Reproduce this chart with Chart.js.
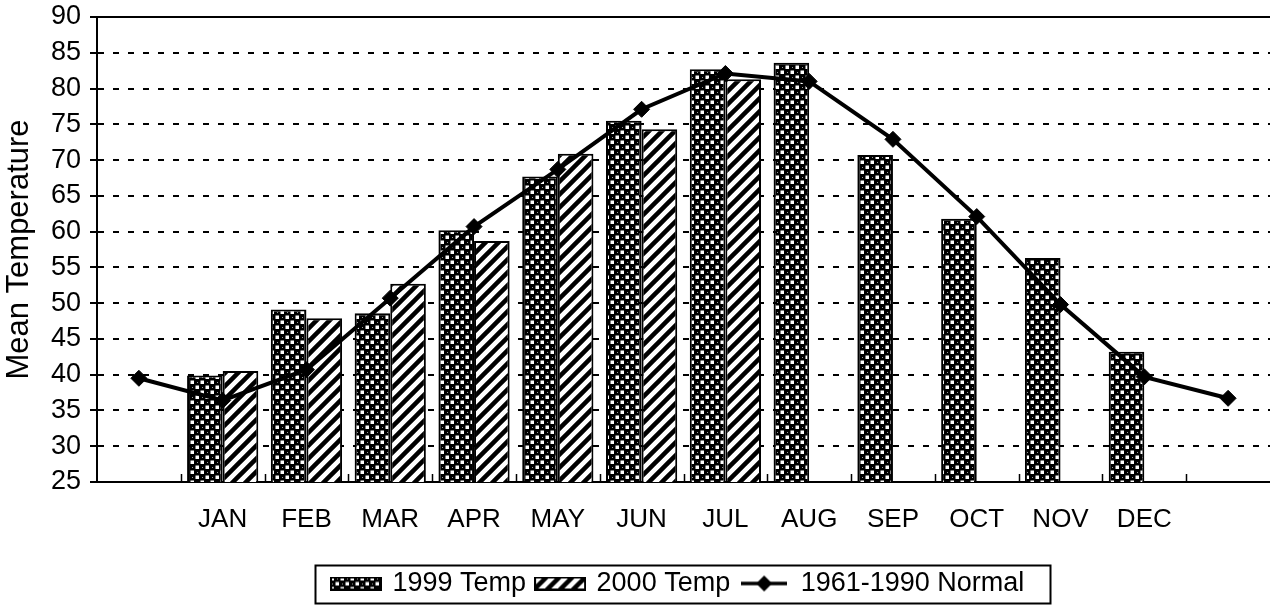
<!DOCTYPE html>
<html><head><meta charset="utf-8">
<script src="https://cdn.jsdelivr.net/npm/chart.js@4.4.1/dist/chart.umd.min.js"></script>
<style>html,body{margin:0;padding:0;background:#fff;overflow:hidden;}canvas{display:block;}</style>
</head><body>
<canvas id="c" width="1270" height="607"></canvas>
<script>
// ---- data ----
const categories = ['', 'JAN', 'FEB', 'MAR', 'APR', 'MAY', 'JUN', 'JUL', 'AUG', 'SEP', 'OCT', 'NOV', 'DEC', ''];
const temp1999 = [null, 39.9, 49.1, 48.6, 60.2, 67.7, 75.5, 82.7, 83.6, 70.7, 61.8, 56.3, 43.2, null];
const temp2000 = [null, 40.5, 47.9, 52.7, 58.7, 70.9, 74.3, 81.3, null, null, null, null, null, null];
const normal6190 = [39.5, 36.4, 40.7, 50.7, 60.7, 68.7, 77.1, 82.1, 81.0, 72.9, 62.1, 49.8, 39.7, 36.7];
const seriesNames = ['1999 Temp', '2000 Temp', '1961-1990 Normal'];
const yTitle = 'Mean Temperature';
const yMin = 25, yMax = 90, yStep = 5;

const FONT = "'Liberation Sans', Arial, sans-serif";
Chart.defaults.font.family = FONT;
Chart.defaults.color = '#000';

// ---- patterns ----
function drawDots(g) {
  const s = 10;
  const c = document.createElement('canvas'); c.width = s; c.height = s;
  const t = c.getContext('2d');
  t.fillStyle = '#000'; t.fillRect(0, 0, s, s);
  t.fillStyle = '#fff';
  t.fillRect(0.5, 0.5, 3.5, 3.5); t.fillRect(5.5, 5.5, 3.5, 3.5);
  t.fillStyle = '#999';
  t.fillRect(7, 2, 1, 1); t.fillRect(2, 7, 1, 1);
  return g.createPattern(c, 'repeat');
}
function drawHatch(g) {
  const s = 13;
  const c = document.createElement('canvas'); c.width = s; c.height = s;
  const t = c.getContext('2d');
  t.fillStyle = '#fff'; t.fillRect(0, 0, s, s);
  t.strokeStyle = '#000'; t.lineWidth = 4.5;
  t.beginPath();
  t.moveTo(-s, 2 * s); t.lineTo(2 * s, -s);
  t.moveTo(-s, s); t.lineTo(s, -s);
  t.moveTo(0, 2 * s); t.lineTo(2 * s, 0);
  t.stroke();
  return g.createPattern(c, 'repeat');
}
const mainCtx = document.getElementById('c').getContext('2d');
const dotPattern = drawDots(mainCtx);
const hatchPattern = drawHatch(mainCtx);

function barSwatch(maker) {
  const c = document.createElement('canvas'); c.width = 52; c.height = 14;
  const g = c.getContext('2d');
  g.fillStyle = maker(g); g.fillRect(0, 0, 52, 14);
  g.strokeStyle = '#000'; g.lineWidth = 2; g.strokeRect(1, 1, 50, 12);
  return c;
}
function lineSwatch() {
  const c = document.createElement('canvas'); c.width = 46; c.height = 18;
  const g = c.getContext('2d');
  g.strokeStyle = '#000'; g.lineWidth = 3.5;
  g.beginPath(); g.moveTo(0, 9); g.lineTo(46, 9); g.stroke();
  g.fillStyle = '#000';
  g.beginPath(); g.moveTo(23, 1); g.lineTo(31, 9); g.lineTo(23, 17); g.lineTo(15, 9); g.closePath(); g.fill();
  return c;
}
const legendImgs = [barSwatch(drawDots), barSwatch(drawHatch), lineSwatch()];

const LEGEND_FIRST_X = 333;

const framePlugin = {
  id: 'frame',
  afterUpdate(chart) {
    const lg = chart.legend;
    if (!lg || !lg.legendHitBoxes || !lg.legendHitBoxes.length) return;
    const d = LEGEND_FIRST_X - lg.legendHitBoxes[0].left;
    lg.left += d; lg.right += d;
    lg.legendHitBoxes.forEach(h => { h.left += d; });
  },
  afterDraw(chart) {
    const {ctx, chartArea: a, scales: {x, y}} = chart;
    ctx.save();
    ctx.strokeStyle = '#000';
    // top border
    ctx.lineWidth = 2;
    const yt = Math.round(y.getPixelForValue(yMax));
    ctx.beginPath(); ctx.moveTo(a.left, yt); ctx.lineTo(a.right, yt); ctx.stroke();
    // inward ticks between categories on x axis
    ctx.lineWidth = 1.5;
    ctx.beginPath();
    for (let i = 1; i < categories.length; i++) {
      const px = Math.round((x.getPixelForValue(i - 1) + x.getPixelForValue(i)) / 2) + 0.5;
      ctx.moveTo(px, a.bottom); ctx.lineTo(px, a.bottom - 8);
    }
    ctx.stroke();
    // legend frame
    const hb = chart.legend.legendHitBoxes;
    if (hb && hb.length) {
      const first = hb[0], last = hb[hb.length - 1];
      const cy = first.top + first.height / 2;
      const l = first.left - 18, r = last.left + last.width + 26;
      ctx.lineWidth = 2;
      ctx.strokeRect(Math.round(l) + 0.5, Math.round(cy - 19) + 0.5, Math.round(r - l), 38);
    }
    ctx.restore();
  }
};

new Chart(mainCtx, {
  type: 'bar',
  data: {
    labels: categories,
    datasets: [
      { label: seriesNames[0], data: temp1999, backgroundColor: dotPattern, borderColor: '#000', borderWidth: 2,
        categoryPercentage: 0.85, barPercentage: 1.0, order: 2 },
      { label: seriesNames[1], data: temp2000, backgroundColor: hatchPattern, borderColor: '#000', borderWidth: 2,
        categoryPercentage: 0.85, barPercentage: 1.0, order: 2 },
      { type: 'line', label: seriesNames[2], data: normal6190, borderColor: '#000', borderWidth: 4,
        pointStyle: 'rectRot', pointRadius: 8, pointBackgroundColor: '#000', pointBorderColor: '#000',
        pointBorderWidth: 1, tension: 0, fill: false, order: 0, clip: false }
    ]
  },
  options: {
    responsive: false, animation: false, devicePixelRatio: 1,
    layout: { autoPadding: false, padding: { top: 17, right: -4, bottom: 0, left: 0 } },
    plugins: {
      tooltip: { enabled: false },
      legend: {
        position: 'bottom',
        labels: {
          usePointStyle: true, pointStyleWidth: 46, padding: 11,
          font: { family: FONT, size: 27 }, color: '#000',
          generateLabels: () => seriesNames.map((t, i) => ({
            text: t, pointStyle: legendImgs[i], fillStyle: 'transparent', strokeStyle: 'transparent',
            lineWidth: 0, hidden: false, datasetIndex: i, fontColor: '#000'
          }))
        }
      }
    },
    scales: {
      x: {
        grid: { display: false, drawTicks: false },
        border: { display: true, color: '#000', width: 2 },
        ticks: { font: { family: FONT, size: 26 }, color: '#000', padding: 22, autoSkip: false, maxRotation: 0 },
        afterFit(s) { s.height = 77; s.paddingLeft = 0; s.paddingRight = 0; }
      },
      y: {
        min: yMin, max: yMax,
        ticks: { stepSize: yStep, font: { family: FONT, size: 27 }, color: '#000', padding: 9 },
        grid: {
          color: c => (c.tick && (c.tick.value === yMin || c.tick.value === yMax)) ? 'rgba(0,0,0,0)' : '#000',
          lineWidth: 2, tickColor: '#000', tickLength: 7, tickWidth: 2
        },
        border: { display: true, color: '#000', width: 2, dash: [6, 9] },
        title: { display: true, text: yTitle, font: { family: FONT, size: 31 }, color: '#000', padding: { top: 1, bottom: 0 } },
        afterFit(s) { s.width = 97; s.paddingTop = 0; s.paddingBottom = 0; }
      }
    }
  },
  plugins: [framePlugin]
});
</script>
</body></html>
